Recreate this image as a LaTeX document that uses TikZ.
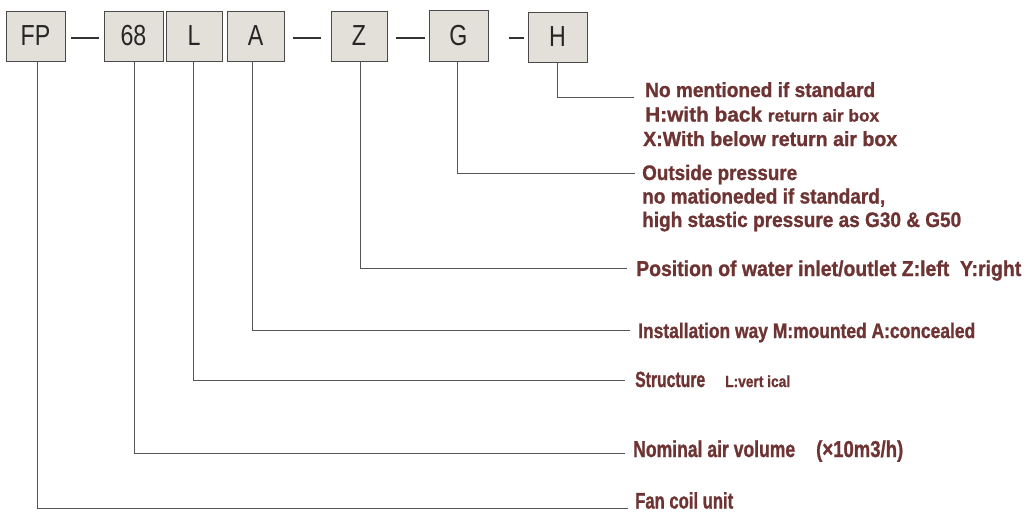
\documentclass[tikz,border=0pt]{standalone}
\usepackage{fontspec}
\usepackage{graphicx}
\setmainfont{Liberation Sans}
\newfontfamily\boxfont[FakeStretch=0.8]{Liberation Sans}
\newfontfamily\lblfont[BoldFeatures={FakeBold=1.2}]{Liberation Sans}
\definecolor{lbl}{HTML}{6E3434}
\definecolor{boxfill}{HTML}{E3E0D9}
\definecolor{boxline}{HTML}{4A4A4A}
\definecolor{conn}{HTML}{555555}
\newcommand\fw[2]{\resizebox{#1pt}{\height}{#2}}
\tikzset{
  codebox/.style={draw=boxline, fill=boxfill, line width=0.9pt, inner sep=0pt,
    minimum height=50pt, font=\boxfont\fontsize{29}{29}\selectfont, text=black!85},
  lbltext/.style={anchor=base west, inner sep=0pt, text=lbl},
  conline/.style={draw=conn, line width=0.9pt},
  dashline/.style={draw=black!80, line width=1.1pt}
}
\begin{document}
\begin{tikzpicture}[x=1pt,y=-1pt]
\useasboundingbox (0,0) rectangle (1025,512);
% code boxes
\node[codebox, minimum width=59pt] (FP) at (35.5,36) {FP};
\node[codebox, minimum width=59pt] (n68) at (133.5,36) {68};
\node[codebox, minimum width=56pt] (L) at (194,36) {L};
\node[codebox, minimum width=57pt] (A) at (255.5,36) {A};
\node[codebox, minimum width=56pt] (Z) at (359,36) {Z};
\node[codebox, minimum width=59pt, minimum height=51pt] (G) at (458.5,35.5) {G};
\node[codebox, minimum width=59pt] (H) at (557.5,37) {H};
% dashes between boxes
\draw[dashline] (71,38) -- (99,38);
\draw[dashline] (293,38) -- (321,38);
\draw[dashline] (396,38) -- (425,38);
\draw[dashline] (509,38) -- (524,38);
% label texts
\node[lbltext, font=\lblfont\bfseries\fontsize{20.5}{20.5}\selectfont] (tH1) at (645,97) {\fw{230}{No mentioned if standard}};
\node[lbltext, font=\lblfont\bfseries\fontsize{20.5}{20.5}\selectfont] (tH2) at (645,121.5) {\fw{234}{H:with back {\fontsize{17}{17}\selectfont return air box}}};
\node[lbltext, font=\lblfont\bfseries\fontsize{20.5}{20.5}\selectfont] (tH3) at (643,146) {\fw{254}{X:With below return air box}};
\node[lbltext, font=\lblfont\bfseries\fontsize{21}{21}\selectfont] (tG1) at (642,180) {\fw{155}{Outside pressure}};
\node[lbltext, font=\lblfont\bfseries\fontsize{21}{21}\selectfont] (tG2) at (642,203.5) {\fw{243}{no mationeded if standard,}};
\node[lbltext, font=\lblfont\bfseries\fontsize{21}{21}\selectfont] (tG3) at (642,227) {\fw{319}{high stastic pressure as G30 \& G50}};
\node[lbltext, font=\lblfont\bfseries\fontsize{21.5}{21.5}\selectfont] (tZ) at (636,276) {\fw{385}{Position of water inlet/outlet Z:left\ \ Y:right}};
\node[lbltext, font=\lblfont\bfseries\fontsize{21}{21}\selectfont] (tA) at (638,338) {\fw{337}{Installation way M:mounted A:concealed}};
\node[lbltext, font=\lblfont\bfseries\fontsize{22}{22}\selectfont] (tL) at (635,387) {\fw{70}{Structure}\hspace{20pt}\fw{65}{\fontsize{16}{16}\selectfont L:vert ical}};
\node[lbltext, font=\lblfont\bfseries\fontsize{23}{23}\selectfont] (t68) at (633,457) {\fw{162}{Nominal air volume}\hspace{21pt}\fw{87}{(×10m3/h)}};
\node[lbltext, font=\lblfont\bfseries\fontsize{22.5}{22.5}\selectfont] (tFP) at (635,508.5) {\fw{98}{Fan coil unit}};
% connector ends
\coordinate (eH) at (634,97.5);
\coordinate (eG) at (635,173);
\coordinate (eZ) at (627,268);
\coordinate (eA) at (630,330);
\coordinate (eL) at (625,380.5);
\coordinate (e68) at (625,453);
\coordinate (eFP) at (628,508);
% connectors
\draw[conline] (H.south -| 557,0) |- (eH);
\draw[conline] (G.south -| 457,0) |- (eG);
\draw[conline] (Z.south -| 360,0) |- (eZ);
\draw[conline] (A.south -| 252,0) |- (eA);
\draw[conline] (L.south -| 193,0) |- (eL);
\draw[conline] (n68.south -| 134,0) |- (e68);
\draw[conline] (FP.south -| 37,0) |- (eFP);
\end{tikzpicture}
\end{document}
